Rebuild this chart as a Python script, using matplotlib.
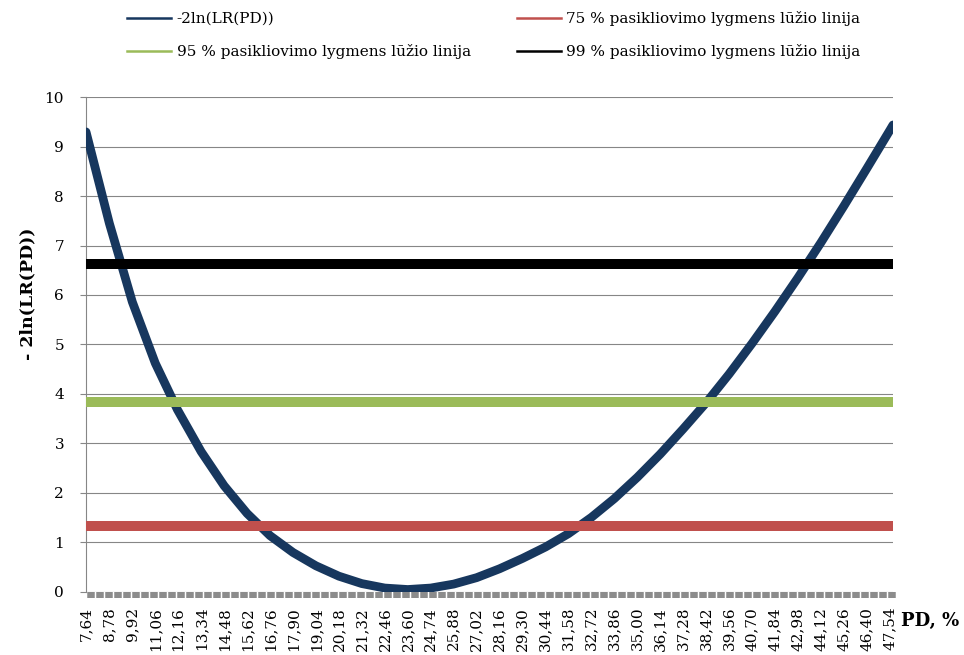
import numpy as np
import matplotlib
matplotlib.use("Agg")
import matplotlib.pyplot as plt
from matplotlib.lines import Line2D

# ---- data ----
pd_curve = [7.62, 7.64, 8.78, 9.92, 11.06, 12.16, 13.34, 14.48, 15.62, 16.76, 17.90,
            19.04, 20.18, 21.32, 22.46, 23.60, 24.74, 25.88, 27.02, 28.16, 29.30,
            30.44, 31.58, 32.72, 33.86, 35.00, 36.14, 37.28, 38.42, 39.56, 40.70,
            41.84, 42.98, 44.12, 45.26, 46.40, 47.54, 47.70]
lr_curve = [9.30, 9.27, 7.45, 5.86, 4.62, 3.68, 2.83, 2.14, 1.58, 1.13, 0.79,
            0.52, 0.31, 0.16, 0.07, 0.04, 0.07, 0.15, 0.28, 0.46, 0.67,
            0.90, 1.17, 1.50, 1.88, 2.31, 2.78, 3.29, 3.82, 4.40, 5.02,
            5.67, 6.35, 7.06, 7.80, 8.56, 9.33, 9.44]

pd_tick_labels = ["7,64", "8,78", "9,92", "11,06", "12,16", "13,34", "14,48", "15,62",
                  "16,76", "17,90", "19,04", "20,18", "21,32", "22,46", "23,60", "24,74",
                  "25,88", "27,02", "28,16", "29,30", "30,44", "31,58", "32,72", "33,86",
                  "35,00", "36,14", "37,28", "38,42", "39,56", "40,70", "41,84", "42,98",
                  "44,12", "45,26", "46,40", "47,54"]
y_ticks = [0, 1, 2, 3, 4, 5, 6, 7, 8, 9, 10]

curve_label = "-2ln(LR(PD))"
level_values = [1.32, 3.84, 6.63]
level_labels = ["75 % pasikliovimo lygmens lūžio linija",
                "95 % pasikliovimo lygmens lūžio linija",
                "99 % pasikliovimo lygmens lūžio linija"]
level_colors = ["#C0504D", "#9BBB59", "#000000"]
curve_color = "#17375E"

plt.rcParams["font.family"] = ["DejaVu Serif"]

W, H = 964, 655
fig = plt.figure(figsize=(W / 100, H / 100), dpi=100)
left, right, bottom, top = 86, 893, 591.5, 97.3
ax = fig.add_axes([left / W, 1 - bottom / H, (right - left) / W, (bottom - top) / H])

ax.plot(pd_curve, lr_curve, color=curve_color, lw=6.3,
        solid_capstyle="round", solid_joinstyle="round", zorder=3)
xmin, xmax = pd_curve[0], pd_curve[-1]
for v, c in zip(level_values, level_colors):
    ax.plot([xmin, xmax], [v, v], color=c, lw=7.2, solid_capstyle="butt", zorder=4)

ax.set_xlim(xmin, xmax)
ax.set_ylim(0, 10)

# axes styling
grid_col = "#868686"
ax.set_yticks(y_ticks)
ax.yaxis.grid(True, color=grid_col, lw=0.8)
ax.set_axisbelow(True)
for s in ["top", "right", "bottom"]:
    ax.spines[s].set_visible(False)
ax.spines["left"].set_color(grid_col)
ax.spines["left"].set_linewidth(0.8)
ax.tick_params(axis="y", length=4.3, width=0.8, color=grid_col, pad=11.5,
               labelsize=11, labelcolor="black")

tick_pos = [float(s.replace(",", ".")) for s in pd_tick_labels]
ax.set_xticks(tick_pos)
ax.set_xticklabels(pd_tick_labels, rotation=90, fontsize=11)
ax.tick_params(axis="x", which="major", length=0, pad=11)
step = (tick_pos[-1] - tick_pos[0]) / (len(tick_pos) - 1) / 2.55
ax.set_xticks(np.arange(xmin + step / 2, xmax, step), minor=True)
ax.tick_params(axis="x", which="minor", length=4.3, width=5.4, color="#8c8c8c",
               direction="out")

fig.text(28 / W, 1 - 294 / H, "- 2ln(LR(PD))", rotation=90, ha="center", va="center",
         fontsize=12.5, fontweight="bold")
fig.text(901 / W, 1 - 621 / H, "PD, %", ha="left", va="center",
         fontsize=13, fontweight="bold")

# legend (column-wise order -> rows: curve | 75 %, 95 % | 99 %)
def proxy(c):
    return Line2D([], [], color=c, lw=1.8)

handles = [proxy(curve_color), proxy(level_colors[1]), proxy(level_colors[0]), proxy(level_colors[2])]
labels = [curve_label, level_labels[1], level_labels[0], level_labels[2]]
fig.legend(handles, labels, ncol=2, loc="upper left", bbox_to_anchor=(127 / W, 1 - 11 / H),
           frameon=False, fontsize=11, handlelength=2.9, handletextpad=0.35,
           columnspacing=3.0, labelspacing=1.2, borderpad=0, borderaxespad=0)

fig.savefig("out.png", dpi=100)
